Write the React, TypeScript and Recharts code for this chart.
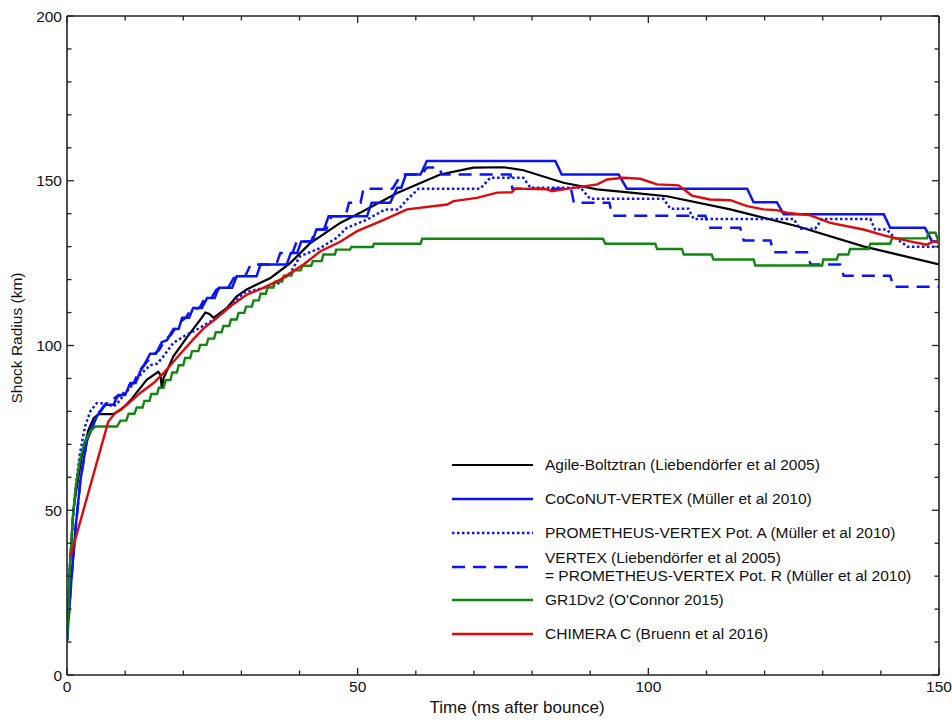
import { LineChart, Line, XAxis, YAxis, ReferenceLine } from "recharts";

// time after bounce (ms) / shock radius (km)
const agileBoltztran: [number, number][] = [
  [0, 10.5], [0.5, 33], [1.1, 50], [1.5, 55], [2.5, 66], [3.7, 74.4], [4.6, 78], [5.5, 79.2],
  [8, 79.2], [9.5, 80.8], [11, 83.5], [13.7, 89.6], [15.7, 92], [16.1, 91], [16.3, 87], [16.6, 90],
  [18.3, 96.7], [20.6, 102.4], [22.9, 107.8], [23.8, 110], [24.5, 109.6], [25.2, 108.4], [27.5, 111.4],
  [29.2, 114.9], [30.9, 117], [35, 120.5], [38.4, 125], [41.8, 131], [47, 137.2], [51, 140.8],
  [56.8, 146.3], [64.2, 151.9], [69.9, 154], [75.1, 154.1], [78.5, 153.2], [85.4, 149.4], [91.2, 147.4],
  [97, 146.4], [103.2, 145.3], [114.1, 141.3], [125.6, 136.2], [137, 130.1], [150, 124.6],
];

const coconutVertex: [number, number][] = [
  [0, 10.5], [0.8, 30], [1.5, 45], [2.3, 59], [3.4, 71], [5.1, 78.4], [6.6, 82], [8, 82], [8.8, 85],
  [10, 85], [10.9, 88.6], [11.8, 88.6], [12.6, 92.2], [13.3, 94.2], [14.3, 97.5], [15.3, 97.5],
  [16.3, 101], [17.2, 101.6], [18.3, 105], [19.2, 105], [19.8, 108.4], [21, 108.4], [21.7, 111.4],
  [23.2, 111.4], [24.1, 114.4], [25.4, 114.4], [26.1, 117.5], [28.4, 117.5], [29.2, 121], [32.6, 121],
  [33.3, 124.6], [37.8, 124.6], [38.5, 128.1], [39.6, 128.1], [40.3, 131.6], [42.2, 131.6],
  [42.9, 135.2], [44.2, 135.2], [45, 139.2], [51.6, 139.2], [52.4, 143.3], [55.6, 143.3],
  [56.8, 147.9], [57.5, 147.9], [58.3, 151.9], [60.8, 151.9], [61.9, 156], [84, 156], [85.1, 151.9],
  [94.9, 151.9], [96.3, 147.6], [117, 147.6], [118.1, 143.5], [122.1, 143.5], [123.3, 139.8],
  [140.5, 139.8], [141.6, 135.7], [147.6, 135.7], [148.8, 131.6], [150, 131.6],
];

const prometheusPotA: [number, number][] = [
  [0, 10.5], [0.5, 33], [1, 47], [1.5, 57], [2.2, 67], [3.1, 75.4], [4, 80], [5.1, 82.5], [7.1, 82.5],
  [7.7, 81.5], [8.5, 82], [9.1, 83.5], [11, 87.5], [12.8, 91.5], [14.3, 94], [15.5, 94.5], [16.5, 96.5],
  [18.3, 100.8], [20.3, 103], [22.3, 104.8], [25.2, 107.8], [28.1, 111.9], [30.4, 116], [33.8, 117.5],
  [36.1, 118.5], [38.4, 122], [40.1, 127.1], [43.6, 129.6], [46.4, 132.7], [48.1, 135.7],
  [51.6, 138.2], [54.7, 141.3], [57, 141.3], [58.5, 144.3], [60.5, 147.6], [71.1, 147.6],
  [72.8, 150.9], [78.5, 150.9], [79.7, 147.9], [88.3, 147.9], [90, 144.5], [102.6, 144.5],
  [103.8, 141.5], [106.9, 141.5], [107.8, 138.4], [125, 138.4], [126.1, 135.4], [128.7, 135.4],
  [129.9, 138.4], [138.2, 138.4], [139, 135.2], [141, 135.2], [142.2, 133], [144.6, 130], [150, 130],
];

const vertexPotR: [number, number][] = [
  [0, 10.5], [0.8, 30], [1.5, 45], [2.3, 59], [3.4, 71], [5, 78.5], [6.5, 82], [7.5, 83], [8.5, 84.5],
  [9.5, 85], [10.5, 87.8], [11.5, 88.6], [12.3, 92], [13.5, 94.5], [14.5, 96.8], [15.8, 98.5],
  [16.8, 101.5], [18, 103.5], [19.2, 106.8], [20.4, 108.4], [21.3, 110.8], [22.8, 111.4], [23.6, 114],
  [24.9, 114.6], [25.7, 117], [27.8, 117.8], [28.7, 120.5], [30.7, 121.2], [31.6, 124.6], [36, 124.6],
  [36.7, 128.1], [38.8, 128.1], [39.5, 131.6], [42, 131.6], [42.8, 135.2], [44.6, 135.2],
  [45.5, 139.2], [47.9, 139.2], [48.5, 143.3], [50.5, 143.3], [51, 147.6], [56, 147.6], [57.5, 151.9],
  [61, 151.9], [61.9, 154], [64, 154], [64.5, 151.9], [76.3, 151.9], [76.6, 147.6], [86.7, 147.6],
  [87.2, 143.3], [93.3, 143.3], [93.8, 139.4], [109.8, 139.4], [110.4, 135.7], [115.8, 135.7],
  [116.4, 131.9], [121, 131.9], [121.5, 128.3], [127.3, 128.3], [127.9, 124.6], [133, 124.6],
  [133.6, 121.2], [141.6, 121.2], [142.2, 117.8], [150, 117.8],
];

const gr1dv2: [number, number][] = [
  [0, 10.5], [0.5, 33], [1, 48], [1.5, 57], [2.2, 65], [3, 70.5], [4, 74], [4.9, 75.4], [8.6, 75.4],
  [9.2, 77.2], [10.2, 77.2], [10.6, 79.3], [11.6, 79.3], [12, 81.2], [13, 81.2], [13.3, 83.2],
  [14.2, 83.2], [14.5, 85.3], [15.5, 85.3], [15.8, 87.2], [16.6, 87.2], [17, 89.5], [17.8, 89.5],
  [18.1, 91.8], [18.9, 91.8], [19.2, 94], [20, 94], [20.3, 96.2], [21.2, 96.2], [21.5, 98.3],
  [22.6, 98.3], [22.9, 100.2], [24, 100.2], [24.3, 102.1], [25.3, 102.1], [25.6, 104], [26.6, 104],
  [26.9, 105.9], [27.9, 105.9], [28.2, 107.9], [29.2, 107.9], [29.5, 109.9], [30.5, 109.9],
  [30.8, 111.8], [31.8, 111.8], [32.1, 113.7], [33, 113.7], [33.3, 115.7], [34.2, 115.7],
  [34.5, 117.6], [35.5, 117.6], [35.8, 119.4], [37, 119.4], [37.3, 121.2], [38.6, 121.2],
  [38.9, 122.8], [40.2, 122.8], [40.5, 124.2], [42, 124.2], [42.3, 125.6], [43.8, 125.6],
  [44.1, 127.6], [46.1, 127.6], [46.3, 129.1], [48.7, 129.1], [48.9, 129.9], [52.6, 129.9],
  [52.8, 130.9], [60.8, 130.9], [61.1, 132.4], [92.2, 132.4], [92.6, 130.9], [101.2, 130.9],
  [101.5, 129.3], [105.8, 129.3], [106.1, 127.6], [110.9, 127.6], [111.2, 126.1], [118.1, 126.1],
  [118.4, 124.3], [129.9, 124.3], [130.1, 126.1], [132.4, 126.1], [132.7, 127.6], [134.4, 127.6],
  [134.7, 129.3], [137.9, 129.3], [138.2, 130.9], [141.6, 130.9], [141.9, 132.5], [147.9, 132.5],
  [148.2, 134.2], [149.4, 134.2], [149.9, 131.6], [150, 131.6],
];

const chimeraC: [number, number][] = [
  [0.6, 36], [7.1, 76.9], [8.3, 79.5], [10.3, 82], [12.6, 85.6], [14.9, 88.6], [16.6, 91.6],
  [19.5, 97.5], [21.8, 102], [23.5, 105.2], [25.8, 108.4], [28.1, 111.9], [30.9, 115.4], [33.8, 117.5],
  [36.7, 120], [40.7, 124.6], [43.6, 128.6], [47, 131.5], [49.9, 134.7], [53.9, 137.7], [58.5, 141.3],
  [65.4, 142.8], [66.5, 143.8], [70.5, 144.8], [74, 146.4], [76.5, 146.5], [77.1, 147.6], [82.6, 147.4],
  [83.4, 146.8], [85.4, 147.4], [91.2, 148.9], [92.9, 150.4], [95.7, 150.9], [98.6, 150.6],
  [101.5, 148.9], [105.2, 148.6], [107.5, 145.5], [110.6, 144.3], [114.1, 144.1], [117, 142.3],
  [119.8, 141.3], [122.1, 141.1], [123.8, 140.3], [127.9, 139.5], [131.3, 137.2], [137, 135.2],
  [140.5, 133.4], [145, 131.6], [147.9, 130.6], [149.1, 131.6], [150, 131.2],
];

const seriesNames = [
  "Agile-Boltztran (Liebendörfer et al 2005)",
  "CoCoNUT-VERTEX (Müller et al 2010)",
  "PROMETHEUS-VERTEX Pot. A (Müller et al 2010)",
  "VERTEX (Liebendörfer et al 2005)\n= PROMETHEUS-VERTEX Pot. R (Müller et al 2010)",
  "GR1Dv2 (O'Connor 2015)",
  "CHIMERA C (Bruenn et al 2016)",
];
const seriesPoints = [agileBoltztran, coconutVertex, prometheusPotA, vertexPotR, gr1dv2, chimeraC];

const xTicks = [0, 10, 20, 30, 40, 50, 60, 70, 80, 90, 100, 110, 120, 130, 140, 150];
const yTicks = [0, 10, 20, 30, 40, 50, 60, 70, 80, 90, 100, 110, 120, 130, 140, 150, 160, 170, 180, 190, 200];

const styles = [
  { color: "#000000", width: 2.2, dash: undefined },
  { color: "#0a14f5", width: 2.5, dash: undefined },
  { color: "#0a14f5", width: 2.5, dash: "2.5 2.5" },
  { color: "#0a14f5", width: 2.5, dash: "13 8" },
  { color: "#12870f", width: 2.4, dash: undefined },
  { color: "#dc0a0a", width: 2.4, dash: undefined },
];

const W = 944;
const H = 712;
const PLOT = { left: 59, top: 8, right: 931, bottom: 667 };
const AXIS = "#222";
const FONT = "'Liberation Sans', Arial, Helvetica, sans-serif";

const XTick = (props: any) => {
  const { x, payload } = props;
  const v = payload.value;
  const major = v % 50 === 0;
  const len = major ? 7 : 4.5;
  return (
    <g>
      <line x1={x} x2={x} y1={PLOT.bottom} y2={PLOT.bottom - len} stroke={AXIS} strokeWidth={1.3} />
      <line x1={x} x2={x} y1={PLOT.top} y2={PLOT.top + len} stroke={AXIS} strokeWidth={1.3} />
      {major && (
        <text x={x} y={PLOT.bottom + 16.6} textAnchor="middle" fontSize={15.5} fill="#111" fontFamily={FONT}>
          {v}
        </text>
      )}
    </g>
  );
};

const YTick = (props: any) => {
  const { y, payload } = props;
  const v = payload.value;
  const major = v % 50 === 0;
  const len = major ? 7 : 4.5;
  return (
    <g>
      <line x1={PLOT.left} x2={PLOT.left + len} y1={y} y2={y} stroke={AXIS} strokeWidth={1.3} />
      <line x1={PLOT.right} x2={PLOT.right - len} y1={y} y2={y} stroke={AXIS} strokeWidth={1.3} />
      {major && (
        <text x={PLOT.left - 5} y={y + 5.5} textAnchor="end" fontSize={15.5} fill="#111" fontFamily={FONT}>
          {v}
        </text>
      )}
    </g>
  );
};

function LegendBox() {
  return (
    <div
      style={{
        position: "absolute",
        left: 444,
        top: 440.4,
        fontFamily: FONT,
        fontSize: 15.5,
        color: "#111",
      }}
    >
      {seriesNames.map((name, i) => {
        const s = styles[i];
        return (
          <div key={name} style={{ height: 33.75, display: "flex", alignItems: "center" }}>
            <svg width={81} height={6} style={{ flexShrink: 0 }}>
              <line x1={0} x2={81} y1={3} y2={3} stroke={s.color} strokeWidth={s.width} strokeDasharray={s.dash} />
            </svg>
            <div style={{ marginLeft: 12, lineHeight: "17.7px", whiteSpace: "nowrap" }}>
              {name.split("\n").map((line) => (
                <div key={line}>{line}</div>
              ))}
            </div>
          </div>
        );
      })}
    </div>
  );
}

export default function App() {
  return (
    <div style={{ position: "fixed", left: 8, top: 8, width: W, height: H, background: "#fff" }}>
      <LineChart
        width={W}
        height={H}
        margin={{ top: PLOT.top, right: W - PLOT.right, bottom: 0, left: 0 }}
        style={{ overflow: "visible" }}
      >
        <XAxis
          dataKey="t"
          type="number"
          domain={[0, 150]}
          ticks={xTicks}
          interval={0}
          height={H - PLOT.bottom}
          allowDataOverflow
          axisLine={{ stroke: AXIS, strokeWidth: 1.6 }}
          tickLine={false}
          tick={(p: any) => <XTick {...p} />}
          label={{
            content: () => (
              <text x={509} y={705} textAnchor="middle" fontSize={17} fill="#111" fontFamily={FONT}>
                Time (ms after bounce)
              </text>
            ),
          }}
        />
        <YAxis
          type="number"
          domain={[0, 200]}
          ticks={yTicks}
          interval={0}
          width={PLOT.left}
          allowDataOverflow
          axisLine={{ stroke: AXIS, strokeWidth: 1.6 }}
          tickLine={false}
          tick={(p: any) => <YTick {...p} />}
          label={{
            content: () => (
              <text
                x={0}
                y={0}
                transform={`translate(13.7, 330) rotate(-90)`}
                textAnchor="middle"
                fontSize={15.5}
                fill="#111"
                fontFamily={FONT}
              >
                Shock Radius (km)
              </text>
            ),
          }}
        />
        <ReferenceLine y={200} stroke={AXIS} strokeWidth={1.6} />
        <ReferenceLine x={150} stroke={AXIS} strokeWidth={1.6} />
        {seriesPoints.map((pts, i) => (
          <Line
            key={seriesNames[i]}
            data={pts.map(([t, r]) => ({ t, r }))}
            dataKey="r"
            type="linear"
            stroke={styles[i].color}
            strokeWidth={styles[i].width}
            strokeDasharray={styles[i].dash}
            dot={false}
            activeDot={false}
            isAnimationActive={false}
          />
        ))}
      </LineChart>
      <LegendBox />
    </div>
  );
}
